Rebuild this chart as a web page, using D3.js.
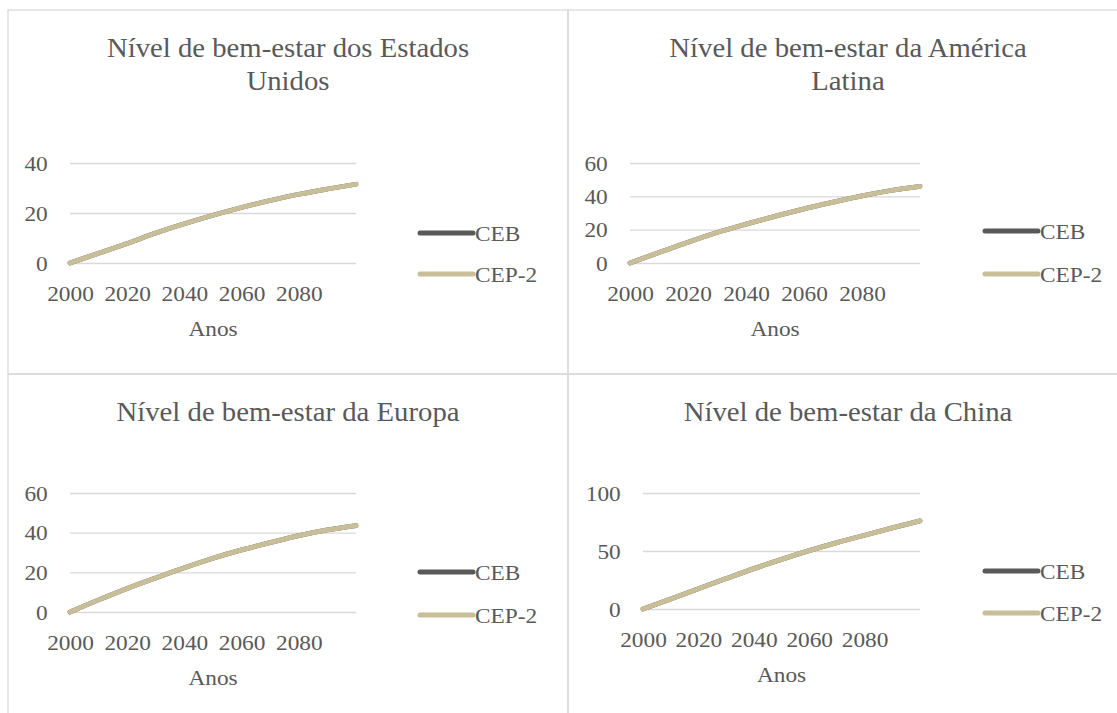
<!DOCTYPE html>
<html>
<head>
<meta charset="utf-8">
<script src="https://cdn.jsdelivr.net/npm/d3@7"></script>
<style>
    body { margin: 0; background: #fff; }
    svg text { font-family: "Liberation Serif", "Tinos", "Times New Roman", serif; fill: #595959; }
</style>
</head>
<body>
<div id="chart"></div>
<script>
/* Data */
const years = [2000, 2010, 2020, 2030, 2040, 2050, 2060, 2070, 2080, 2090, 2100];
const xTickYears = [2000, 2020, 2040, 2060, 2080];
const seriesNames = ["CEB", "CEP-2"];

const titles = [
    ["Nível de bem-estar dos Estados", "Unidos"],
    ["Nível de bem-estar da América", "Latina"],
    ["Nível de bem-estar da Europa"],
    ["Nível de bem-estar da China"]
];

const yTicksEUA = [0, 20, 40];
const yTicksAL = [0, 20, 40, 60];
const yTicksEuropa = [0, 20, 40, 60];
const yTicksChina = [0, 50, 100];

// CEB and CEP-2 lie on top of each other in every panel
const cebEUA = [0, 3.9, 7.8, 12.0, 15.7, 19.1, 22.2, 25.0, 27.5, 29.6, 31.5];
const cep2EUA = [0, 3.9, 7.8, 12.0, 15.7, 19.1, 22.2, 25.0, 27.5, 29.6, 31.5];
const cebAL = [0, 6.3, 12.5, 18.3, 23.3, 28.0, 32.5, 36.5, 40.3, 43.5, 46.0];
const cep2AL = [0, 6.3, 12.5, 18.3, 23.3, 28.0, 32.5, 36.5, 40.3, 43.5, 46.0];
const cebEuropa = [0, 6.1, 11.9, 17.2, 22.3, 27.1, 31.3, 35.0, 38.5, 41.4, 43.6];
const cep2Europa = [0, 6.1, 11.9, 17.2, 22.3, 27.1, 31.3, 35.0, 38.5, 41.4, 43.6];
const cebChina = [0, 8.6, 17.4, 26.2, 34.8, 42.8, 50.3, 57.2, 63.6, 69.9, 76.0];
const cep2China = [0, 8.6, 17.4, 26.2, 34.8, 42.8, 50.3, 57.2, 63.6, 69.9, 76.0];

const colors = { "CEB": "#595959", "CEP-2": "#c8be98" };

/* Layout of the 2x2 grid */
const W = 1117, H = 713;
const sx = 1.085; // glyphs in the original are a bit wider than Times
const panels = [
    { x: 8,   y: 10,  left: 62, right: 348, top: 153, bottom: 253, legX: 410, legY: [223, 264], ticks: yTicksEUA, series: [cebEUA, cep2EUA] },
    { x: 568, y: 10,  left: 62, right: 352, top: 153, bottom: 253, legX: 415, legY: [221, 264], ticks: yTicksAL, series: [cebAL, cep2AL] },
    { x: 8,   y: 374, left: 62, right: 348, top: 119, bottom: 238, legX: 410, legY: [198, 241], ticks: yTicksEuropa, series: [cebEuropa, cep2Europa] },
    { x: 568, y: 374, left: 75, right: 352, top: 119, bottom: 235, legX: 415, legY: [197, 239], ticks: yTicksChina, series: [cebChina, cep2China] }
];

const svg = d3.select("#chart")
    .append("svg")
    .attr("width", W)
    .attr("height", H);

/* Panel borders */
svg.append("g")
    .selectAll("rect")
    .data(panels)
    .join("rect")
    .attr("x", d => d.x)
    .attr("y", d => d.y)
    .attr("width", 560)
    .attr("height", 364)
    .attr("fill", "none")
    .attr("stroke", "#d9d9d9")
    .attr("stroke-width", 1.3);

// stretched text placed at (x, y)
function addText(g, x, y, str, size, anchor) {
    return g.append("text")
        .attr("transform", `translate(${x},${y}) scale(${sx},1)`)
        .attr("text-anchor", anchor || "start")
        .attr("font-size", size)
        .text(str);
}

function drawPanel(p, i) {
    const g = svg.append("g").attr("transform", `translate(${p.x},${p.y})`);

    const xScale = d3.scaleLinear()
        .domain([years[0], years[years.length - 1]])
        .range([p.left, p.right]);

    const yScale = d3.scaleLinear()
        .domain([0, p.ticks[p.ticks.length - 1]])
        .range([p.bottom, p.top]);

    /* Title */
    titles[i].forEach((t, k) => {
        addText(g, 280, 47 + k * 33, t, "26.5px", "middle");
    });

    /* Gridlines + y labels */
    const yAxis = d3.axisLeft(yScale)
        .tickValues(p.ticks)
        .tickSize(-(p.right - p.left))
        .tickPadding(20.5);
    g.append("g")
        .attr("transform", `translate(${p.left},0)`)
        .call(yAxis)
        .call(a => a.select(".domain").remove())
        .call(a => a.selectAll("line").attr("stroke", "#d9d9d9").attr("stroke-width", 1.3))
        .call(a => a.selectAll("text")
            .attr("font-size", "21.5px")
            .attr("fill", "#595959")
            .attr("dy", "0.33em")
            .attr("transform", `scale(${sx},1)`));

    /* X labels */
    const xAxis = d3.axisBottom(xScale)
        .tickValues(xTickYears)
        .tickFormat(d3.format("d"))
        .tickSize(0)
        .tickPadding(23);
    g.append("g")
        .attr("transform", `translate(0,${p.bottom})`)
        .call(xAxis)
        .call(a => a.select(".domain").remove())
        .call(a => a.selectAll("text")
            .attr("font-size", "21.5px")
            .attr("fill", "#595959")
            .attr("transform", `scale(${sx},1)`));

    addText(g, (p.left + p.right) / 2, p.bottom + 73, "Anos", "21.5px", "middle");

    /* Lines */
    const line = d3.line()
        .x((d, k) => xScale(years[k]))
        .y(d => yScale(d))
        .curve(d3.curveMonotoneX);

    p.series.forEach((s, k) => {
        g.append("path")
            .datum(s)
            .attr("d", line)
            .attr("fill", "none")
            .attr("stroke", colors[seriesNames[k]])
            .attr("stroke-width", 4.8)
            .attr("stroke-linecap", "round")
            .attr("stroke-linejoin", "round");
    });

    /* Legend */
    seriesNames.forEach((name, k) => {
        g.append("line")
            .attr("x1", p.legX + 2)
            .attr("x2", p.legX + 55)
            .attr("y1", p.legY[k])
            .attr("y2", p.legY[k])
            .attr("stroke", colors[name])
            .attr("stroke-width", 5)
            .attr("stroke-linecap", "round");
        addText(g, p.legX + 57, p.legY[k] + 7.5, name, "21.5px");
    });
}

panels.forEach(drawPanel);
</script>
</body>
</html>
